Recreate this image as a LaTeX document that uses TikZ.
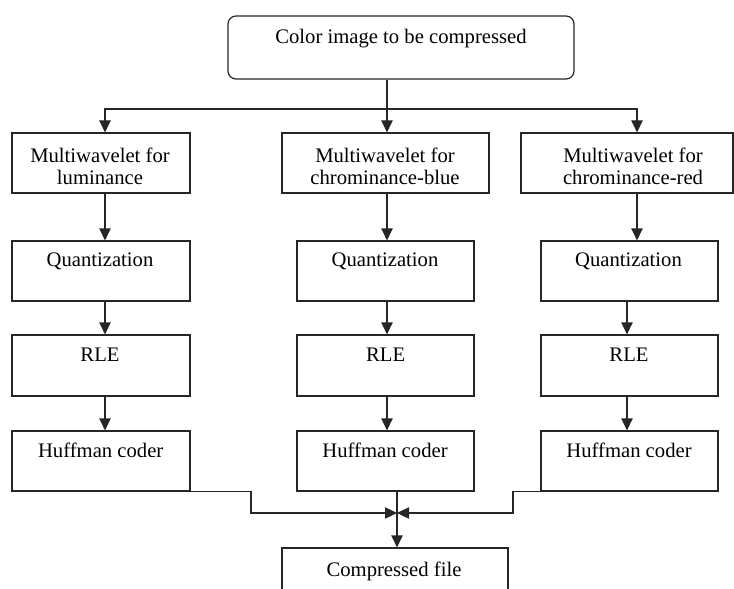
\documentclass[tikz,border=0pt]{standalone}
\usepackage{fontspec}
\setmainfont{Liberation Serif}
\usetikzlibrary{arrows.meta,fit}
\begin{document}
\begin{tikzpicture}[x=0.75pt,y=-0.75pt,
  box/.style={draw=black!85, line width=0.9pt, inner sep=0pt},
  rbox/.style={box, rounded corners=6pt},
  lbl/.style={font=\fontsize{15.5}{16.5}\selectfont, inner sep=0pt, anchor=base},
  lbl2/.style={font=\fontsize{15.5}{16.5}\selectfont, inner sep=0pt, align=center},
  conn/.style={draw=black!85, line width=0.9pt},
  arr/.style={conn, -{Triangle[length=9pt,width=8.5pt]}}
]
\useasboundingbox (0,0) rectangle (734,588);

% boxes
\node[rbox, fit={(228,16)(574,79)}] (top) {};
\node[box, fit={(12,133)(190,193)}] (m1) {};
\node[box, fit={(282,133)(489,193)}] (m2) {};
\node[box, fit={(521,133)(733,193)}] (m3) {};
\node[box, fit={(12,241)(190,301)}] (q1) {};
\node[box, fit={(297,241)(474,301)}] (q2) {};
\node[box, fit={(541,241)(718,301)}] (q3) {};
\node[box, fit={(12,335)(190,396)}] (r1) {};
\node[box, fit={(297,335)(474,396)}] (r2) {};
\node[box, fit={(541,335)(718,396)}] (r3) {};
\node[box, fit={(12,431)(190,491)}] (h1) {};
\node[box, fit={(297,431)(474,491)}] (h2) {};
\node[box, fit={(541,431)(718,491)}] (h3) {};
\node[box, fit={(282,548)(508,640)}] (out) {};

% texts
\node[lbl] (topt) at (401,44) {Color image to be compressed};
\node[lbl2] (m1t) at (100,166) {Multiwavelet for\\luminance};
\node[lbl2] (m2t) at (385,166) {Multiwavelet for\\chrominance-blue};
\node[lbl2] (m3t) at (633,166) {Multiwavelet for\\chrominance-red};
\node[lbl] (q1t) at (100,266) {Quantization};
\node[lbl] (q2t) at (385,266) {Quantization};
\node[lbl] (q3t) at (628.5,266) {Quantization};
\node[lbl] (r1t) at (100,361) {RLE};
\node[lbl] (r2t) at (385.7,361) {RLE};
\node[lbl] (r3t) at (629,361) {RLE};
\node[lbl] (h1t) at (100.7,457) {Huffman coder};
\node[lbl] (h2t) at (385,457) {Huffman coder};
\node[lbl] (h3t) at (629,457) {Huffman coder};
\node[lbl] (outt) at (394,576) {Compressed file};

% column coordinates
\coordinate (colL) at (105,0);
\coordinate (colM) at (387,0);
\coordinate (colR) at (637,0);
\coordinate (colR2) at (627,0);
\coordinate (colO) at (397,0);
\coordinate (split) at (387,109);
\coordinate (mrg) at (397,513);
\coordinate (jl) at (251,0);
\coordinate (jr) at (513,0);

% connectors
\draw[conn] (top.south -| split) -- (split);
\draw[arr] (split) -| (m1.north -| colL);
\draw[arr] (split) -- (m2.north -| colM);
\draw[arr] (split) -| (m3.north -| colR);

\draw[arr] (m1.south -| colL) -- (q1.north -| colL);
\draw[arr] (m2.south -| colM) -- (q2.north -| colM);
\draw[arr] (m3.south -| colR) -- (q3.north -| colR);

\draw[arr] (q1.south -| colL) -- (r1.north -| colL);
\draw[arr] (q2.south -| colM) -- (r2.north -| colM);
\draw[arr] (q3.south -| colR2) -- (r3.north -| colR2);

\draw[arr] (r1.south -| colL) -- (h1.north -| colL);
\draw[arr] (r2.south -| colM) -- (h2.north -| colM);
\draw[arr] (r3.south -| colR2) -- (h3.north -| colR2);

\draw[arr] (h1.south east) -| (jl |- mrg) -- (mrg);
\draw[arr] (h3.south west) -| (jr |- mrg) -- (mrg);
\draw[arr] (h2.south -| colO) -- (out.north -| colO);
\end{tikzpicture}
\end{document}
